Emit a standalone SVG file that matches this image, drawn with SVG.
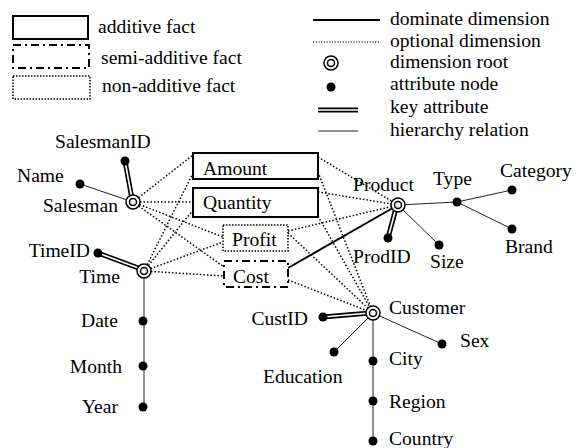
<svg xmlns="http://www.w3.org/2000/svg" width="579" height="448" viewBox="0 0 579 448" font-family="'Liberation Serif', 'Times New Roman', 'DejaVu Serif', serif" font-size="19.6">
<style>
text{font-family:'Liberation Serif','Times New Roman','DejaVu Serif',serif;font-size:19.6px;fill:#000}
.e{text-anchor:end}
.opt{stroke:#000;stroke-width:1.5;stroke-dasharray:1.5 2;fill:none}
.dom{stroke:#000;stroke-width:2;fill:none}
.hier{stroke:#222;stroke-width:1;fill:none}
.keyo{stroke:#000;stroke-width:5;fill:none}
.keyi{stroke:#fff;stroke-width:1.6;fill:none}
.add{fill:#fff;stroke:#000;stroke-width:2}
.semi{fill:#fff;stroke:#000;stroke-width:2;stroke-dasharray:8 4 2 4}
.non{fill:#fff;stroke:#000;stroke-width:1.5;stroke-dasharray:1.5 1.5}
.root{fill:#fff;stroke:#000;stroke-width:1.5}
.att{fill:#000}
</style>
<defs>
<g id="rootSym"><circle class="root" r="7"/><circle class="root" r="3.5"/></g>
</defs>
<g id="legend">
<rect class="add" x="13" y="16" width="75" height="23"/>
<text x="98" y="33">additive fact</text>
<rect class="semi" x="13" y="45" width="76" height="23"/>
<text x="101" y="64">semi-additive fact</text>
<rect class="non" x="13" y="76" width="77" height="23"/>
<text x="102" y="92">non-additive fact</text>
<line class="dom" x1="313" y1="20" x2="380" y2="20"/>
<text x="390" y="25">dominate dimension</text>
<line x1="313" y1="42" x2="380" y2="42" stroke="#000" stroke-width="1.2" stroke-dasharray="1.2 1.5"/>
<text x="390" y="47">optional dimension</text>
<use href="#rootSym" x="331" y="63"/>
<text x="390" y="68">dimension root</text>
<circle class="att" cx="331" cy="87" r="4.5"/>
<text x="390" y="90">attribute node</text>
<line class="keyo" x1="318" y1="110" x2="358" y2="110"/>
<line class="keyi" x1="318" y1="110" x2="358" y2="110"/>
<text x="390" y="113">key attribute</text>
<line class="hier" x1="318" y1="131" x2="358" y2="131"/>
<text x="390" y="136">hierarchy relation</text>
</g>
<g id="connectors">
<line class="opt" x1="133" y1="202" x2="193" y2="155"/>
<line class="opt" x1="133" y1="202" x2="193" y2="202"/>
<line class="opt" x1="133" y1="202" x2="223" y2="237"/>
<line class="opt" x1="133" y1="202" x2="224" y2="267"/>
<line class="opt" x1="144" y1="271" x2="193" y2="173"/>
<line class="opt" x1="144" y1="271" x2="193" y2="210"/>
<line class="opt" x1="144" y1="271" x2="223" y2="242"/>
<line class="opt" x1="144" y1="271" x2="224" y2="276"/>
<line class="opt" x1="318" y1="157" x2="398" y2="205"/>
<line class="opt" x1="318" y1="192" x2="398" y2="205"/>
<line class="opt" x1="288" y1="231" x2="398" y2="205"/>
<line class="dom" x1="288" y1="268" x2="398" y2="205"/>
<line class="opt" x1="318" y1="172" x2="373" y2="313"/>
<line class="opt" x1="318" y1="216" x2="373" y2="313"/>
<line class="opt" x1="288" y1="233" x2="373" y2="313"/>
<line class="opt" x1="288" y1="280" x2="373" y2="313"/>
<line class="hier" x1="80" y1="184" x2="133" y2="202"/>
<line class="keyo" x1="125" y1="161" x2="132" y2="199"/>
<line class="keyi" x1="125" y1="161" x2="132" y2="199"/>
<line class="keyo" x1="98" y1="253" x2="141" y2="269"/>
<line class="keyi" x1="98" y1="253" x2="141" y2="269"/>
<line class="hier" x1="144" y1="271" x2="144" y2="407"/>
<line class="hier" x1="398" y1="205" x2="457" y2="202"/>
<line class="hier" x1="457" y1="202" x2="512" y2="190"/>
<line class="hier" x1="457" y1="202" x2="512" y2="229"/>
<line class="hier" x1="398" y1="205" x2="439" y2="245"/>
<line class="keyo" x1="388" y1="238" x2="396" y2="208"/>
<line class="keyi" x1="388" y1="238" x2="396" y2="208"/>
<line class="keyo" x1="323" y1="317" x2="370" y2="313"/>
<line class="keyi" x1="323" y1="317" x2="370" y2="313"/>
<line class="hier" x1="373" y1="313" x2="334" y2="352"/>
<line class="hier" x1="373" y1="313" x2="442" y2="344"/>
<line class="hier" x1="373" y1="313" x2="373" y2="441"/>
</g>
<g id="amount"><rect class="add" x="193" y="153" width="125" height="26"/><text x="203" y="175">Amount</text></g>
<g id="quantity"><rect class="add" x="193" y="188" width="125" height="29"/><text x="203" y="209">Quantity</text></g>
<g id="profit"><rect class="non" x="223" y="225" width="65" height="26"/><text x="232" y="246">Profit</text></g>
<g id="cost"><rect class="semi" x="224" y="261" width="64" height="26"/><text x="233" y="283">Cost</text></g>
<g id="salesman"><use href="#rootSym" x="133" y="202"/><text class="e" x="118" y="212">Salesman</text></g>
<g id="salesmanid"><circle class="att" cx="125" cy="161" r="4.5"/><text x="55" y="148">SalesmanID</text></g>
<g id="name"><circle class="att" cx="80" cy="184" r="4.5"/><text x="17" y="182">Name</text></g>
<g id="time"><use href="#rootSym" x="144" y="271"/><text class="e" x="120" y="283">Time</text></g>
<g id="timeid"><circle class="att" cx="98" cy="253" r="4.5"/><text class="e" x="90" y="257">TimeID</text></g>
<g id="date"><circle class="att" cx="143" cy="321" r="4.5"/><text class="e" x="118" y="327">Date</text></g>
<g id="month"><circle class="att" cx="143" cy="366" r="4.5"/><text class="e" x="122" y="373">Month</text></g>
<g id="year"><circle class="att" cx="143" cy="407" r="4.5"/><text class="e" x="118" y="413">Year</text></g>
<g id="product"><use href="#rootSym" x="398" y="205"/><text x="353" y="191">Product</text></g>
<g id="type"><circle class="att" cx="457" cy="202" r="4.5"/><text x="433" y="185">Type</text></g>
<g id="category"><circle class="att" cx="512" cy="190" r="4.5"/><text x="500" y="177">Category</text></g>
<g id="brand"><circle class="att" cx="512" cy="229" r="4.5"/><text x="505" y="253">Brand</text></g>
<g id="prodid"><circle class="att" cx="388" cy="238" r="4.5"/><text x="353" y="263">ProdID</text></g>
<g id="size"><circle class="att" cx="439" cy="245" r="4.5"/><text x="430" y="268">Size</text></g>
<g id="customer"><use href="#rootSym" x="373" y="313"/><text x="389" y="314">Customer</text></g>
<g id="custid"><circle class="att" cx="323" cy="317" r="4.5"/><text class="e" x="308" y="325">CustID</text></g>
<g id="education"><circle class="att" cx="334" cy="352" r="4.5"/><text x="263" y="383">Education</text></g>
<g id="sex"><circle class="att" cx="442" cy="344" r="4.5"/><text x="460" y="347">Sex</text></g>
<g id="city"><circle class="att" cx="373" cy="361" r="4.5"/><text x="389" y="365">City</text></g>
<g id="region"><circle class="att" cx="373" cy="401" r="4.5"/><text x="389" y="408">Region</text></g>
<g id="country"><circle class="att" cx="373" cy="441" r="4.5"/><text x="389" y="445">Country</text></g>
</svg>
